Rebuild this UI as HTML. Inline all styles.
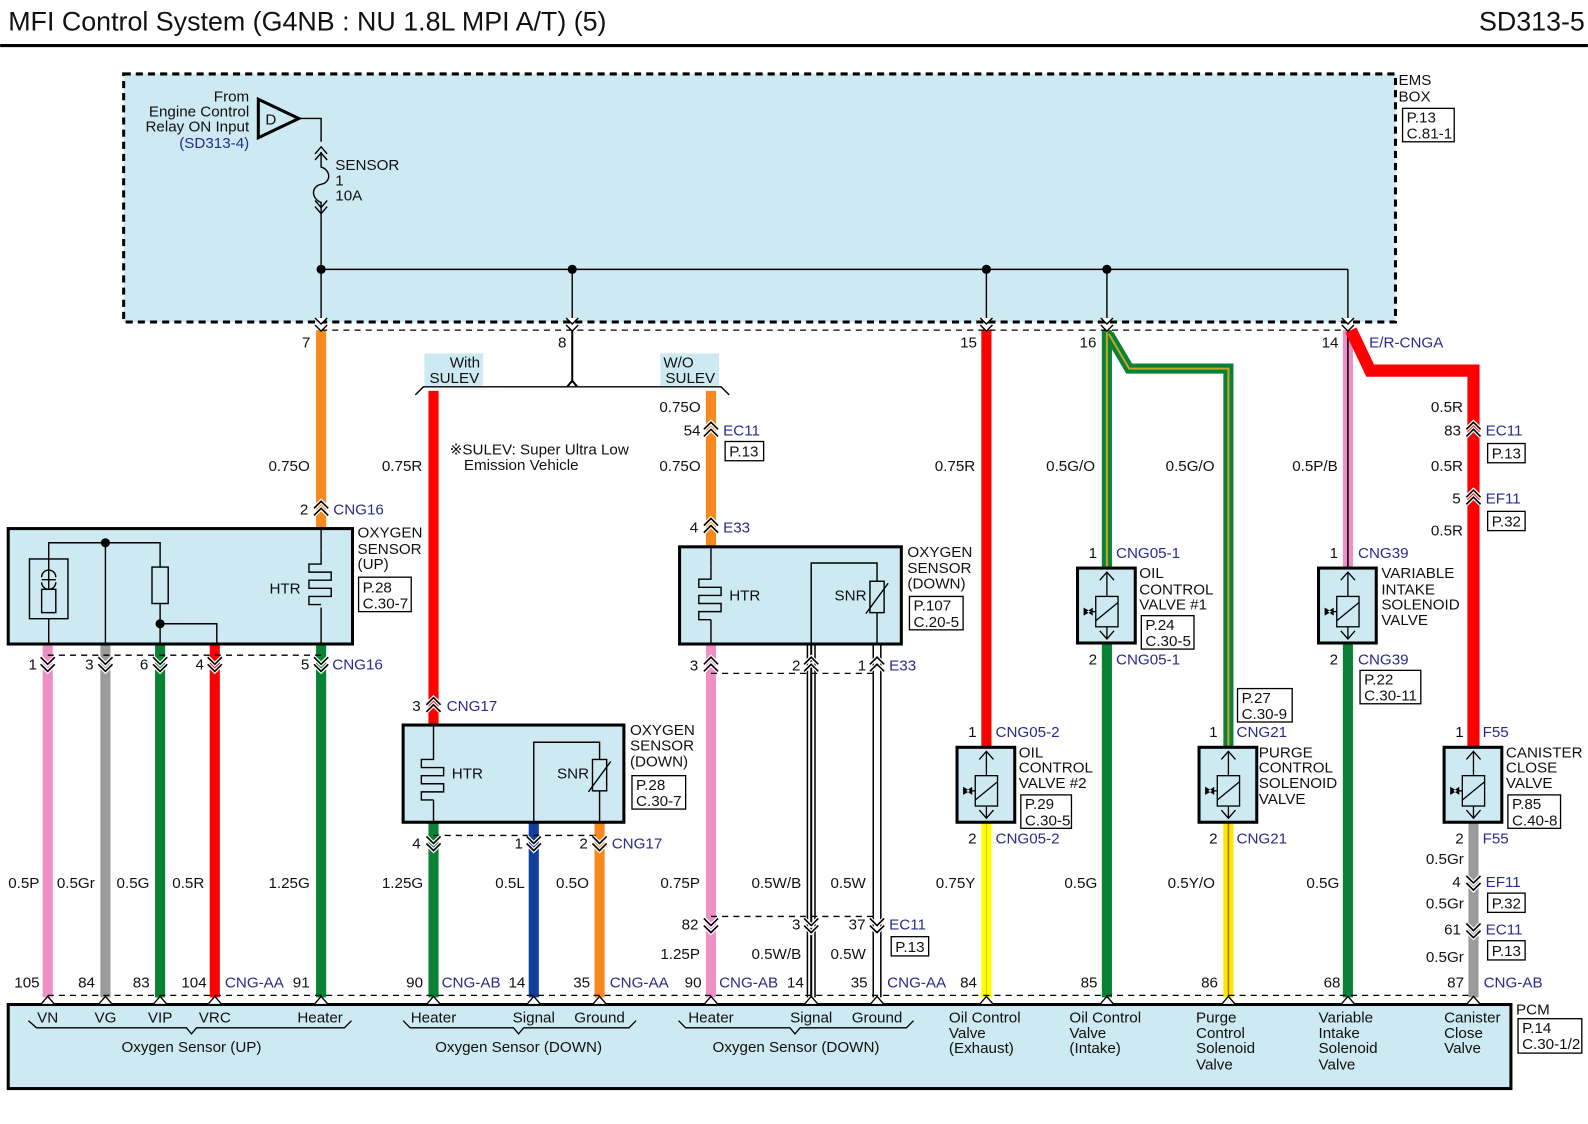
<!DOCTYPE html>
<html><head><meta charset="utf-8"><style>
html,body{margin:0;padding:0;background:#fff;}
svg{display:block;}
text{font-family:"Liberation Sans",sans-serif;font-size:15px;fill:#111;}
.b{fill:#2a2a8c;}
.t{font-size:26.5px;}
</style></head><body>
<svg width="1588" height="1124" viewBox="0 0 1568 1110" xmlns="http://www.w3.org/2000/svg">
<defs>
<g id="dn"><path d="M-7,-6 L0,1 L7,-6 M-7,1 L0,8 L7,1" fill="none" stroke="#fff" stroke-width="4"/><path d="M-7,-6 L0,1 L7,-6 M-7,1 L0,8 L7,1" fill="none" stroke="#000" stroke-width="1.6"/></g>
<g id="up"><path d="M-7,6 L0,-1 L7,6 M-7,-1 L0,-8 L7,-1" fill="none" stroke="#fff" stroke-width="4"/><path d="M-7,6 L0,-1 L7,6 M-7,-1 L0,-8 L7,-1" fill="none" stroke="#000" stroke-width="1.6"/></g>
<g id="tri"><path d="M-7,0 L0,-8 L7,0 Z" fill="#fff" stroke="#000" stroke-width="1.3"/></g>
<g id="emsp"><path d="M-6,-8 L0,-2 L6,-8 M-6,-1 L0,5 L6,-1" fill="#fff" stroke="#000" stroke-width="1.4"/></g>
<g id="valve">
<rect x="-29" y="0" width="57" height="74" fill="#cde9f1" stroke="#000" stroke-width="3"/>
<line x1="0" y1="4" x2="0" y2="70" stroke="#000" stroke-width="1.3"/>
<path d="M-7,12 L0,4 L7,12 M-7,62 L0,70 L7,62" fill="none" stroke="#000" stroke-width="1.3"/>
<rect x="-11" y="28" width="22" height="30" fill="#cde9f1" stroke="#000" stroke-width="1.3"/>
<line x1="-11" y1="52" x2="11" y2="34" stroke="#000" stroke-width="1.3"/>
<path d="M-23,39 L-16,43 L-23,47 Z M-14,39 L-20,43 L-14,47 Z" fill="#000"/>
<line x1="-16" y1="43" x2="-11" y2="43" stroke="#000" stroke-width="1.3"/>
</g>
<g id="htr"><path d="M0,0 L0,12 L-12,12 L-12,20 L10,20 L10,28 L-12,28 L-12,36 L10,36 L10,44 L-12,44 L-12,52 L0,52" fill="none" stroke="#000" stroke-width="1.4"/></g>
</defs>

<!-- Title -->
<text x="8" y="30" class="t">MFI Control System (G4NB : NU 1.8L MPI A/T) (5)</text>
<text x="1565" y="30" class="t" text-anchor="end">SD313-5</text>
<line x1="0" y1="45" x2="1568" y2="45" stroke="#000" stroke-width="3"/>

<!-- EMS box -->
<rect x="122" y="73" width="1256" height="245" fill="#cde9f1" stroke="#000" stroke-width="3" stroke-dasharray="7,5"/>
<text x="1381" y="84">EMS</text><text x="1381" y="100">BOX</text>
<rect x="1385" y="107" width="51" height="33" fill="#fff" stroke="#000" stroke-width="1.3"/>
<text x="1389" y="121">P.13</text><text x="1389" y="137">C.81-1</text>

<text x="246" y="100" text-anchor="end">From</text>
<text x="246" y="115" text-anchor="end">Engine Control</text>
<text x="246" y="130" text-anchor="end">Relay ON Input</text>
<text x="246" y="146" text-anchor="end" class="b">(SD313-4)</text>
<path d="M255,98 L255,136 L295,117 Z" fill="none" stroke="#000" stroke-width="3"/>
<text x="262" y="123">D</text>
<path d="M295,117 L317,117 L317,140" fill="none" stroke="#000" stroke-width="1.4"/>
<path d="M311,152 L317,145 L323,152 M311,158 L317,151 L323,158" fill="none" stroke="#000" stroke-width="1.4"/>
<path d="M317,150 L317,165 C327,168 327,180 317,182 C307,184 307,196 317,200 L317,215" fill="none" stroke="#000" stroke-width="1.4"/>
<path d="M311,198 L317,205 L323,198 M311,204 L317,211 L323,204" fill="none" stroke="#000" stroke-width="1.4"/>
<text x="331" y="168">SENSOR</text><text x="331" y="183">1</text><text x="331" y="198">10A</text>
<line x1="317" y1="215" x2="317" y2="318" stroke="#000" stroke-width="1.4"/>
<line x1="317" y1="266" x2="1331" y2="266" stroke="#000" stroke-width="1.4"/>
<g stroke="#000" stroke-width="1.4">
<line x1="565" y1="266" x2="565" y2="318"/><line x1="974" y1="266" x2="974" y2="318"/>
<line x1="1093" y1="266" x2="1093" y2="318"/><line x1="1331" y1="266" x2="1331" y2="318"/>
</g>
<g fill="#000"><circle cx="317" cy="266" r="4.5"/><circle cx="565" cy="266" r="4.5"/><circle cx="974" cy="266" r="4.5"/><circle cx="1093" cy="266" r="4.5"/></g>

<!-- top wires -->
<line x1="317" y1="326" x2="317" y2="522" stroke="#f7891f" stroke-width="10"/>
<path d="M565,326 L565,376 L560,382 M565,376 L570,382" fill="none" stroke="#000" stroke-width="2"/>
<path d="M410,390 L418,382 L712,382 L720,390" fill="none" stroke="#000" stroke-width="1.4"/>
<rect x="419" y="349" width="58" height="32" fill="#cde9f1"/>
<text x="444" y="363">With</text><text x="424" y="378">SULEV</text>
<rect x="652" y="349" width="58" height="32" fill="#cde9f1"/>
<text x="655" y="363">W/O</text><text x="657" y="378">SULEV</text>
<line x1="428" y1="386" x2="428" y2="716" stroke="#f00" stroke-width="10"/>
<line x1="702" y1="386" x2="702" y2="540" stroke="#f7891f" stroke-width="10"/>
<line x1="974" y1="326" x2="974" y2="738" stroke="#f00" stroke-width="10"/>
<path d="M1093,326 L1093,560" stroke="#0a8236" stroke-width="10" fill="none"/>
<path d="M1095,330 L1115,364 L1213,364 L1213,738" stroke="#0a8236" stroke-width="10" fill="none"/>
<path d="M1093,326 L1093,560 M1095,330 L1115,364 L1213,364 L1213,738" stroke="#c9a22a" stroke-width="2" fill="none"/>
<line x1="1331" y1="326" x2="1331" y2="560" stroke="#ee8fc6" stroke-width="10"/>
<line x1="1331" y1="326" x2="1331" y2="560" stroke="#000" stroke-width="1.5"/>
<path d="M1334,326 L1353,366 L1455,366 L1455,738" stroke="#f00" stroke-width="12" fill="none"/>

<line x1="317" y1="326" x2="1331" y2="326" stroke="#000" stroke-width="1.3" stroke-dasharray="6,5"/>
<use href="#emsp" x="317" y="322"/><use href="#emsp" x="565" y="322"/><use href="#emsp" x="974" y="322"/><use href="#emsp" x="1093" y="322"/><use href="#emsp" x="1331" y="322"/>
<text x="298" y="343">7</text><text x="551" y="343">8</text><text x="948" y="343">15</text><text x="1066" y="343">16</text><text x="1305" y="343">14</text>
<text x="1352" y="343" class="b">E/R-CNGA</text>

<text x="444" y="449">※SULEV: Super Ultra Low</text><text x="458" y="464">Emission Vehicle</text>

<!-- labels top -->
<text x="265" y="465">0.75O</text><text x="377" y="465">0.75R</text>
<text x="651" y="407">0.75O</text><text x="651" y="465">0.75O</text>
<text x="923" y="465">0.75R</text><text x="1033" y="465">0.5G/O</text><text x="1151" y="465">0.5G/O</text>
<text x="1276" y="465">0.5P/B</text>
<text x="1413" y="407">0.5R</text><text x="1413" y="465">0.5R</text><text x="1413" y="529">0.5R</text>

<!-- Box1 Oxygen sensor up -->
<g stroke-width="10">
<line x1="47" y1="636" x2="47" y2="985" stroke="#ee8fc6"/>
<line x1="104" y1="636" x2="104" y2="985" stroke="#9b9b9b"/>
<line x1="158" y1="636" x2="158" y2="985" stroke="#0a8236"/>
<line x1="212" y1="636" x2="212" y2="985" stroke="#f00"/>
<line x1="317" y1="636" x2="317" y2="985" stroke="#0a8236"/>
</g>
<rect x="8" y="522" width="340" height="114" fill="#cde9f1" stroke="#000" stroke-width="3"/>
<g fill="none" stroke="#000" stroke-width="1.4">
<rect x="29" y="552" width="38" height="59"/>
<rect x="41" y="582" width="14" height="23"/>
<path d="M48,611 L48,636 M48,582 L48,536 L158,536 L158,560 M104,536 L104,636 M158,596 L158,636 M158,616 L214,616 L214,636"/>
<rect x="150" y="560" width="16" height="36"/>
<path d="M41,570 A7,7 0 0 1 55,570 M41,575 A7,7 0 0 0 55,575 M41,572.5 L55,572.5"/>
<line x1="317" y1="522" x2="317" y2="545"/>
<line x1="317" y1="600" x2="317" y2="636"/>
</g>
<use href="#htr" x="317" y="545"/>
<circle cx="104" cy="536" r="4.5"/><circle cx="158" cy="616" r="4.5"/>
<text x="266" y="586">HTR</text>
<text x="353" y="531">OXYGEN</text><text x="353" y="547">SENSOR</text><text x="353" y="562">(UP)</text>
<rect x="354" y="570" width="52" height="34" fill="#fff" stroke="#000" stroke-width="1.3"/>
<text x="358" y="585">P.28</text><text x="358" y="601">C.30-7</text>
<use href="#up" x="317" y="503"/><text x="296" y="508">2</text><text x="329" y="508" class="b">CNG16</text>
<line x1="47" y1="647" x2="317" y2="647" stroke="#000" stroke-width="1.3" stroke-dasharray="6,5"/>
<use href="#dn" x="47" y="655"/><use href="#dn" x="104" y="655"/><use href="#dn" x="158" y="655"/><use href="#dn" x="212" y="655"/><use href="#dn" x="317" y="655"/>
<text x="28" y="661">1</text><text x="84" y="661">3</text><text x="138" y="661">6</text><text x="193" y="661">4</text><text x="297" y="661">5</text>
<text x="328" y="661" class="b">CNG16</text>
<text x="8" y="877">0.5P</text><text x="56" y="877">0.5Gr</text><text x="115" y="877">0.5G</text><text x="170" y="877">0.5R</text><text x="265" y="877">1.25G</text>

<!-- Box2 -->
<g stroke-width="10">
<line x1="428" y1="812" x2="428" y2="985" stroke="#0a8236"/>
<line x1="527" y1="812" x2="527" y2="985" stroke="#10409c"/>
<line x1="592" y1="812" x2="592" y2="985" stroke="#f7891f"/>
</g>
<rect x="398" y="716" width="218" height="96" fill="#cde9f1" stroke="#000" stroke-width="3"/>
<g fill="none" stroke="#000" stroke-width="1.4">
<line x1="428" y1="716" x2="428" y2="738"/><line x1="428" y1="790" x2="428" y2="812"/>
<path d="M527,812 L527,733 L592,733 L592,750 M592,781 L592,812"/>
<rect x="585" y="750" width="14" height="31"/><line x1="581" y1="782" x2="603" y2="752"/>
</g>
<use href="#htr" x="428" y="738"/>
<text x="446" y="769">HTR</text><text x="550" y="769">SNR</text>
<text x="622" y="726">OXYGEN</text><text x="622" y="741">SENSOR</text><text x="622" y="757">(DOWN)</text>
<rect x="624" y="766" width="53" height="33" fill="#fff" stroke="#000" stroke-width="1.3"/>
<text x="628" y="780">P.28</text><text x="628" y="796">C.30-7</text>
<use href="#up" x="428" y="697"/><text x="407" y="702">3</text><text x="441" y="702" class="b">CNG17</text>
<line x1="428" y1="825" x2="592" y2="825" stroke="#000" stroke-width="1.3" stroke-dasharray="6,5"/>
<use href="#dn" x="428" y="832"/><use href="#dn" x="527" y="832"/><use href="#dn" x="592" y="832"/>
<text x="407" y="838">4</text><text x="508" y="838">1</text><text x="572" y="838">2</text><text x="604" y="838" class="b">CNG17</text>
<text x="377" y="877">1.25G</text><text x="489" y="877">0.5L</text><text x="549" y="877">0.5O</text>

<!-- Box3 -->
<line x1="702" y1="636" x2="702" y2="985" stroke="#ee8fc6" stroke-width="10"/>
<line x1="801" y1="636" x2="801" y2="985" stroke="#000" stroke-width="9"/>
<line x1="801" y1="636" x2="801" y2="985" stroke="#fff" stroke-width="6"/>
<line x1="801" y1="636" x2="801" y2="985" stroke="#000" stroke-width="2"/>
<line x1="866" y1="636" x2="866" y2="985" stroke="#000" stroke-width="9"/>
<line x1="866" y1="636" x2="866" y2="985" stroke="#fff" stroke-width="6"/>
<rect x="671" y="540" width="219" height="96" fill="#cde9f1" stroke="#000" stroke-width="3"/>
<g fill="none" stroke="#000" stroke-width="1.4">
<line x1="702" y1="540" x2="702" y2="560"/><line x1="702" y1="612" x2="702" y2="636"/>
<path d="M801,636 L801,556 L866,556 L866,574 M866,605 L866,636"/>
<rect x="859" y="574" width="14" height="31"/><line x1="855" y1="606" x2="877" y2="576"/>
</g>
<use href="#htr" x="702" y="560"/>
<text x="720" y="593">HTR</text><text x="824" y="593">SNR</text>
<text x="896" y="550">OXYGEN</text><text x="896" y="566">SENSOR</text><text x="896" y="581">(DOWN)</text>
<rect x="898" y="589" width="53" height="33" fill="#fff" stroke="#000" stroke-width="1.3"/>
<text x="902" y="603">P.107</text><text x="902" y="619">C.20-5</text>
<use href="#up" x="702" y="425"/><text x="675" y="430">54</text><text x="714" y="430" class="b">EC11</text>
<rect x="716" y="436" width="38" height="19" fill="#fff" stroke="#000" stroke-width="1.3"/><text x="720" y="451">P.13</text>
<use href="#up" x="702" y="520"/><text x="681" y="526">4</text><text x="714" y="526" class="b">E33</text>
<line x1="702" y1="665" x2="866" y2="665" stroke="#000" stroke-width="1.3" stroke-dasharray="6,5"/>
<use href="#up" x="702" y="657"/><use href="#up" x="801" y="657"/><use href="#up" x="866" y="657"/>
<text x="681" y="662">3</text><text x="782" y="662">2</text><text x="847" y="662">1</text><text x="878" y="662" class="b">E33</text>
<text x="652" y="877">0.75P</text><text x="742" y="877">0.5W/B</text><text x="820" y="877">0.5W</text>
<line x1="702" y1="905" x2="866" y2="905" stroke="#000" stroke-width="1.3" stroke-dasharray="6,5"/>
<use href="#dn" x="702" y="913"/><use href="#dn" x="801" y="913"/><use href="#dn" x="866" y="913"/>
<text x="673" y="918">82</text><text x="782" y="918">3</text><text x="838" y="918">37</text><text x="878" y="918" class="b">EC11</text>
<rect x="880" y="925" width="37" height="19" fill="#fff" stroke="#000" stroke-width="1.3"/><text x="884" y="940">P.13</text>
<text x="652" y="947">1.25P</text><text x="742" y="947">0.5W/B</text><text x="820" y="947">0.5W</text>

<!-- Valves wires bottom -->
<line x1="974" y1="812" x2="974" y2="985" stroke="#ffff00" stroke-width="10"/>
<line x1="974" y1="812" x2="974" y2="985" stroke="#000" stroke-width="0.6" opacity="0.3"/>
<line x1="1093" y1="636" x2="1093" y2="985" stroke="#0a8236" stroke-width="10"/>
<line x1="1213" y1="812" x2="1213" y2="985" stroke="#ffe600" stroke-width="10"/>
<line x1="1213" y1="812" x2="1213" y2="985" stroke="#a07a10" stroke-width="1.5"/>
<line x1="1331" y1="636" x2="1331" y2="985" stroke="#0a8236" stroke-width="10"/>
<line x1="1455" y1="812" x2="1455" y2="985" stroke="#9b9b9b" stroke-width="10"/>

<use href="#valve" x="974" y="738"/>
<use href="#valve" x="1093" y="561"/>
<use href="#valve" x="1213" y="738"/>
<use href="#valve" x="1331" y="561"/>
<use href="#valve" x="1455" y="738"/>

<!-- valve 974 -->
<text x="956" y="728">1</text><text x="983" y="728" class="b">CNG05-2</text>
<text x="1006" y="748">OIL</text><text x="1006" y="763">CONTROL</text><text x="1006" y="778">VALVE #2</text>
<rect x="1008" y="785" width="50" height="33" fill="#fff" stroke="#000" stroke-width="1.3"/>
<text x="1012" y="799">P.29</text><text x="1012" y="815">C.30-5</text>
<text x="956" y="833">2</text><text x="983" y="833" class="b">CNG05-2</text>
<text x="924" y="877">0.75Y</text>

<!-- valve 1093 -->
<text x="1075" y="551">1</text><text x="1102" y="551" class="b">CNG05-1</text>
<text x="1125" y="571">OIL</text><text x="1125" y="587">CONTROL</text><text x="1125" y="602">VALVE #1</text>
<rect x="1127" y="608" width="52" height="33" fill="#fff" stroke="#000" stroke-width="1.3"/>
<text x="1131" y="622">P.24</text><text x="1131" y="638">C.30-5</text>
<text x="1075" y="656">2</text><text x="1102" y="656" class="b">CNG05-1</text>
<text x="1051" y="877">0.5G</text>

<!-- valve 1213 -->
<rect x="1222" y="680" width="54" height="33" fill="#fff" stroke="#000" stroke-width="1.3"/>
<text x="1226" y="694">P.27</text><text x="1226" y="710">C.30-9</text>
<text x="1194" y="728">1</text><text x="1221" y="728" class="b">CNG21</text>
<text x="1243" y="748">PURGE</text><text x="1243" y="763">CONTROL</text><text x="1243" y="778">SOLENOID</text><text x="1243" y="794">VALVE</text>
<text x="1194" y="833">2</text><text x="1221" y="833" class="b">CNG21</text>
<text x="1153" y="877">0.5Y/O</text>

<!-- valve 1331 -->
<text x="1313" y="551">1</text><text x="1341" y="551" class="b">CNG39</text>
<text x="1364" y="571">VARIABLE</text><text x="1364" y="587">INTAKE</text><text x="1364" y="602">SOLENOID</text><text x="1364" y="617">VALVE</text>
<text x="1313" y="656">2</text><text x="1341" y="656" class="b">CNG39</text>
<rect x="1343" y="662" width="60" height="33" fill="#fff" stroke="#000" stroke-width="1.3"/>
<text x="1347" y="676">P.22</text><text x="1347" y="692">C.30-11</text>
<text x="1290" y="877">0.5G</text>

<!-- valve 1455 -->
<use href="#up" x="1455" y="425"/><text x="1426" y="430">83</text><text x="1467" y="430" class="b">EC11</text>
<rect x="1469" y="438" width="37" height="19" fill="#fff" stroke="#000" stroke-width="1.3"/><text x="1473" y="453">P.13</text>
<use href="#up" x="1455" y="492"/><text x="1434" y="497">5</text><text x="1467" y="497" class="b">EF11</text>
<rect x="1469" y="505" width="37" height="19" fill="#fff" stroke="#000" stroke-width="1.3"/><text x="1473" y="520">P.32</text>
<text x="1437" y="728">1</text><text x="1464" y="728" class="b">F55</text>
<text x="1487" y="748">CANISTER</text><text x="1487" y="763">CLOSE</text><text x="1487" y="778">VALVE</text>
<rect x="1489" y="785" width="52" height="33" fill="#fff" stroke="#000" stroke-width="1.3"/>
<text x="1493" y="799">P.85</text><text x="1493" y="815">C.40-8</text>
<text x="1437" y="833">2</text><text x="1464" y="833" class="b">F55</text>
<text x="1408" y="853">0.5Gr</text>
<use href="#dn" x="1455" y="871"/><text x="1434" y="876">4</text><text x="1467" y="876" class="b">EF11</text>
<rect x="1469" y="882" width="37" height="19" fill="#fff" stroke="#000" stroke-width="1.3"/><text x="1473" y="897">P.32</text>
<text x="1408" y="897">0.5Gr</text>
<use href="#dn" x="1455" y="918"/><text x="1426" y="923">61</text><text x="1467" y="923" class="b">EC11</text>
<rect x="1469" y="929" width="37" height="19" fill="#fff" stroke="#000" stroke-width="1.3"/><text x="1473" y="944">P.13</text>
<text x="1408" y="950">0.5Gr</text>

<!-- PCM -->
<line x1="47" y1="983" x2="1455" y2="983" stroke="#000" stroke-width="1.3" stroke-dasharray="6,5"/>
<rect x="8" y="992" width="1484" height="83" fill="#cde9f1" stroke="#000" stroke-width="3"/>
<g>
<use href="#tri" x="47" y="992"/><use href="#tri" x="104" y="992"/><use href="#tri" x="158" y="992"/><use href="#tri" x="212" y="992"/><use href="#tri" x="317" y="992"/>
<use href="#tri" x="428" y="992"/><use href="#tri" x="527" y="992"/><use href="#tri" x="592" y="992"/>
<use href="#tri" x="702" y="992"/><use href="#tri" x="801" y="992"/><use href="#tri" x="866" y="992"/>
<use href="#tri" x="974" y="992"/><use href="#tri" x="1093" y="992"/><use href="#tri" x="1213" y="992"/><use href="#tri" x="1331" y="992"/><use href="#tri" x="1455" y="992"/>
</g>
<text x="14" y="975">105</text><text x="77" y="975">84</text><text x="131" y="975">83</text><text x="179" y="975">104</text><text x="222" y="975" class="b">CNG-AA</text><text x="289" y="975">91</text>
<text x="401" y="975">90</text><text x="436" y="975" class="b">CNG-AB</text><text x="502" y="975">14</text><text x="566" y="975">35</text><text x="602" y="975" class="b">CNG-AA</text>
<text x="676" y="975">90</text><text x="710" y="975" class="b">CNG-AB</text><text x="777" y="975">14</text><text x="840" y="975">35</text><text x="876" y="975" class="b">CNG-AA</text>
<text x="948" y="975">84</text><text x="1067" y="975">85</text><text x="1186" y="975">86</text><text x="1307" y="975">68</text><text x="1429" y="975">87</text><text x="1465" y="975" class="b">CNG-AB</text>

<g fill="none" stroke="#000" stroke-width="1.3">
<path d="M28,1008 L36,1015 L184,1015 L189,1021 L194,1015 L340,1015 L347,1008"/>
<path d="M398,1008 L405,1015 L507,1015 L512,1021 L517,1015 L621,1015 L628,1008"/>
<path d="M670,1008 L677,1015 L780,1015 L785,1021 L790,1015 L895,1015 L902,1008"/>
</g>
<g text-anchor="middle">
<text x="47" y="1010">VN</text><text x="104" y="1010">VG</text><text x="158" y="1010">VIP</text><text x="212" y="1010">VRC</text><text x="316" y="1010">Heater</text>
<text x="189" y="1039">Oxygen Sensor (UP)</text>
<text x="428" y="1010">Heater</text><text x="527" y="1010">Signal</text><text x="592" y="1010">Ground</text>
<text x="512" y="1039">Oxygen Sensor (DOWN)</text>
<text x="702" y="1010">Heater</text><text x="801" y="1010">Signal</text><text x="866" y="1010">Ground</text>
<text x="786" y="1039">Oxygen Sensor (DOWN)</text>
</g>
<text x="937" y="1010">Oil Control</text><text x="937" y="1025">Valve</text><text x="937" y="1040">(Exhaust)</text>
<text x="1056" y="1010">Oil Control</text><text x="1056" y="1025">Valve</text><text x="1056" y="1040">(Intake)</text>
<text x="1181" y="1010">Purge</text><text x="1181" y="1025">Control</text><text x="1181" y="1040">Solenoid</text><text x="1181" y="1056">Valve</text>
<text x="1302" y="1010">Variable</text><text x="1302" y="1025">Intake</text><text x="1302" y="1040">Solenoid</text><text x="1302" y="1056">Valve</text>
<text x="1426" y="1010">Canister</text><text x="1426" y="1025">Close</text><text x="1426" y="1040">Valve</text>
<text x="1497" y="1002">PCM</text>
<rect x="1499" y="1006" width="63" height="34" fill="#fff" stroke="#000" stroke-width="1.3"/>
<text x="1503" y="1020">P.14</text><text x="1503" y="1036">C.30-1/2</text>
</svg>
</body></html>
